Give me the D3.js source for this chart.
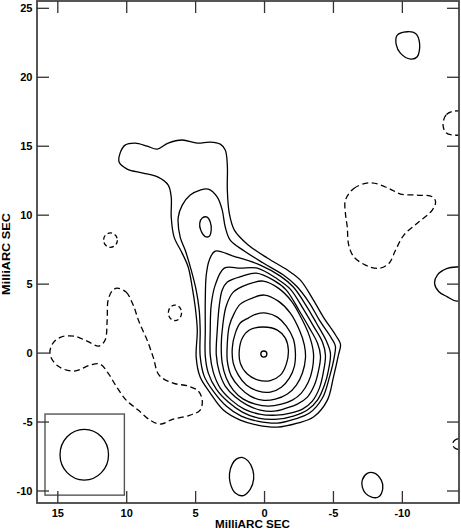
<!DOCTYPE html>
<html><head><meta charset="utf-8">
<script src="https://cdn.jsdelivr.net/npm/d3@7/dist/d3.min.js"></script>
<style>
html,body{margin:0;padding:0;background:#fff;}
svg{display:block;}
text{font-family:"Liberation Sans",Arial,Helvetica,sans-serif;font-weight:bold;fill:#000;}
</style>
</head><body>
<svg id="chart" width="461" height="529"></svg>
<script>
// ---- axis data (milliarcseconds) ----
const xDomain = [16.51, -14.11];
const yDomain = [25.53, -10.87];
const xTicks = [15, 10, 5, 0, -5, -10];
const yTicks = [25, 20, 15, 10, 5, 0, -5, -10];
const axisTitle = "MilliARC SEC";

// ---- positive (solid) contours, vertices in mas [RA offset, Dec offset] ----
const level1 = [[10.48,14.50],[10.12,15.08],[9.39,15.23],[8.52,15.01],[7.79,14.79],[6.99,15.23],[5.97,15.45],[4.88,15.23],[3.94,15.30],[3.21,15.15],[2.85,14.72],[2.70,13.63],[2.70,11.82],[2.56,10.15],[2.19,8.92],[1.25,7.90],[-0.20,6.89],[-1.66,6.02],[-2.60,5.29],[-3.55,3.84],[-4.27,2.61],[-5.15,1.31],[-5.51,0.65],[-5.36,-0.15],[-5.00,-1.74],[-4.56,-3.41],[-3.55,-4.64],[-2.38,-5.08],[-0.93,-5.37],[0.52,-5.22],[1.76,-4.86],[2.99,-4.13],[3.94,-2.90],[4.67,-1.74],[4.96,-0.29],[4.88,1.67],[5.03,3.34],[5.25,4.79],[5.54,6.24],[5.98,7.25],[6.56,8.41],[6.77,9.86],[6.77,11.31],[6.99,12.18],[7.72,12.76],[8.81,13.05],[9.97,13.34],[10.55,13.85]];
const level2 = [[4.67,11.82],[4.08,11.89],[3.43,11.31],[3.07,10.37],[2.85,9.14],[2.49,8.19],[1.47,7.40],[0.09,6.53],[-1.37,5.66],[-2.31,4.86],[-3.26,3.63],[-3.98,2.39],[-4.85,1.09],[-5.14,0.51],[-5.07,-0.22],[-4.71,-1.74],[-4.20,-3.26],[-3.26,-4.35],[-2.17,-4.79],[-0.93,-5.08],[0.52,-4.93],[1.69,-4.57],[2.78,-3.84],[3.72,-2.76],[4.38,-1.67],[4.67,-0.22],[4.67,1.67],[4.74,3.12],[4.96,4.57],[5.32,6.02],[5.76,7.47],[6.12,8.41],[6.26,9.86],[5.97,10.73],[5.39,11.46]];
const level3 = [[3.58,7.40],[2.27,7.03],[0.31,6.38],[-1.15,5.58],[-2.09,4.79],[-3.04,3.41],[-3.76,2.18],[-4.49,0.87],[-4.78,0.00],[-4.64,-1.23],[-4.35,-2.32],[-3.84,-3.41],[-3.11,-4.13],[-2.09,-4.57],[-0.93,-4.79],[0.45,-4.71],[1.61,-4.28],[2.63,-3.55],[3.50,-2.61],[4.08,-1.45],[4.30,-0.22],[4.30,1.67],[4.30,3.84],[4.23,5.66],[4.01,6.74]];
const level3Knot = [[4.52,9.79],[4.16,9.86],[3.94,9.50],[3.87,8.92],[4.01,8.48],[4.30,8.45],[4.63,8.92],[4.70,9.43]];
const level4 = [[2.92,6.16],[1.76,6.16],[0.52,6.16],[-0.93,5.37],[-1.87,4.64],[-2.82,3.19],[-3.55,1.96],[-4.20,0.80],[-4.42,-0.15],[-4.27,-1.38],[-3.98,-2.54],[-3.47,-3.48],[-2.75,-4.06],[-1.87,-4.35],[-0.86,-4.50],[0.38,-4.42],[1.47,-4.06],[2.41,-3.41],[3.21,-2.54],[3.72,-1.38],[3.94,-0.15],[3.94,1.67],[3.87,3.48],[3.58,4.93]];
const level5 = [[2.70,5.15],[1.61,5.58],[0.60,5.80],[-0.64,5.29],[-1.58,4.57],[-2.53,3.05],[-3.26,1.81],[-3.84,0.73],[-4.06,-0.22],[-3.91,-1.31],[-3.62,-2.32],[-3.11,-3.19],[-2.38,-3.70],[-1.58,-3.99],[-0.71,-4.21],[0.31,-4.13],[1.25,-3.77],[2.12,-3.19],[2.85,-2.39],[3.28,-1.38],[3.50,-0.15],[3.43,1.67],[3.28,3.48],[3.07,4.57]];
const level6 = [[2.27,4.42],[1.18,5.00],[0.09,5.22],[-1.00,4.71],[-1.95,3.77],[-2.67,2.54],[-3.26,1.23],[-3.55,0.00],[-3.47,-1.16],[-3.18,-2.10],[-2.67,-2.90],[-2.02,-3.41],[-1.22,-3.70],[-0.28,-3.84],[0.67,-3.70],[1.54,-3.34],[2.27,-2.68],[2.78,-1.81],[3.07,-0.73],[3.14,0.58],[3.03,2.03],[2.78,3.41]];
const level7 = [[1.76,3.55],[0.89,3.99],[0.01,4.21],[-1.00,3.77],[-1.87,2.90],[-2.53,1.67],[-2.89,0.58],[-2.97,-0.36],[-2.75,-1.45],[-2.31,-2.32],[-1.66,-2.97],[-0.78,-3.34],[0.16,-3.41],[1.03,-3.12],[1.83,-2.47],[2.41,-1.67],[2.70,-0.58],[2.70,0.73],[2.56,1.96],[2.19,2.90]];
const level8 = [[1.18,2.54],[0.60,2.83],[-0.13,2.90],[-0.93,2.61],[-1.58,1.96],[-2.09,1.02],[-2.24,0.00],[-2.17,-0.94],[-1.80,-1.81],[-1.22,-2.47],[-0.42,-2.83],[0.45,-2.76],[1.32,-2.32],[1.90,-1.60],[2.27,-0.73],[2.34,0.36],[2.12,1.45],[1.76,2.18]];
const level9 = [[0.09,1.89],[-0.93,1.67],[-1.51,1.09],[-1.73,0.22],[-1.58,-0.80],[-1.15,-1.60],[-0.42,-1.99],[0.45,-1.96],[1.25,-1.52],[1.76,-0.73],[1.83,0.22],[1.61,1.09],[1.10,1.67]];
const blobNorthWest = [[-9.63,23.06],[-10.36,23.30],[-10.96,23.18],[-11.25,22.46],[-11.08,21.49],[-10.60,21.32],[-9.87,21.73],[-9.56,22.34]];
const blobEastEdge = [[-14.11,6.26],[-13.26,6.14],[-12.54,5.66],[-12.34,5.05],[-12.65,4.45],[-13.26,4.08],[-13.94,3.77],[-15.0,4.2],[-15.2,5.2],[-14.8,6.3]];
const blobSouth = [[1.64,-7.56],[1.18,-7.83],[0.85,-8.48],[0.79,-9.14],[1.03,-9.86],[1.54,-10.33],[2.12,-10.15],[2.49,-9.43],[2.54,-8.72],[2.34,-8.05],[2.05,-7.69]];
const blobSouthWest = [[-7.45,-8.72],[-7.93,-8.68],[-8.47,-9.21],[-8.58,-9.81],[-8.29,-10.42],[-7.81,-10.46],[-7.33,-10.17],[-7.09,-9.70],[-7.09,-9.21]];

// ---- negative (dashed) contours ----
const negSouthEast = [[10.70,4.71],[10.04,4.42],[9.53,3.48],[9.10,2.25],[8.52,0.94],[8.08,-0.29],[7.65,-1.60],[6.63,-2.18],[5.54,-2.39],[4.81,-2.75],[4.52,-3.41],[4.67,-4.13],[5.39,-4.50],[6.63,-4.79],[7.57,-5.15],[8.30,-4.86],[9.17,-4.13],[10.04,-3.41],[10.77,-2.39],[11.35,-1.45],[11.93,-0.80],[12.66,-0.87],[13.82,-1.31],[14.99,-0.94],[15.57,-0.07],[15.35,0.73],[14.77,1.16],[13.82,1.23],[12.88,0.87],[12.01,0.51],[11.57,0.94],[11.42,2.39],[11.35,3.84],[11.06,4.50]];
const negWest = [[-5.87,11.09],[-6.48,11.94],[-7.69,12.35],[-9.02,11.94],[-9.87,11.53],[-11.08,11.46],[-12.17,11.33],[-12.41,10.97],[-12.17,10.37],[-11.08,9.41],[-10.11,8.56],[-9.51,7.47],[-9.02,6.50],[-8.29,6.14],[-7.33,6.38],[-6.48,6.98],[-6.11,7.83],[-6.00,9.16],[-5.87,10.13]];
const negNorthEdge = [[-12.95,16.6],[-13.2,17.3],[-13.8,17.55],[-14.6,17.4],[-14.9,16.7],[-14.6,15.95],[-13.8,15.8],[-13.15,16.0]];
const negSouthEdge = [[-13.65,-6.6],[-13.8,-6.32],[-14.2,-6.2],[-14.6,-6.32],[-14.75,-6.6],[-14.6,-6.88],[-14.2,-7.0],[-13.8,-6.88]];

// ---- elliptical features: [centre RA, centre Dec, semi-axis RA, semi-axis Dec] ----
const peakRing = [0.05, -0.07, 0.22, 0.22];
const negSpotNorth = [11.18, 8.19, 0.50, 0.52];
const negSpotMid = [6.50, 2.92, 0.48, 0.56];
const beam = [13.08, -7.37, 1.76, 1.84];
const beamBox = [[15.93, -4.42], [10.17, -10.30]];

const solidContours = [level1, level2, level3, level3Knot, level4, level5, level6, level7, level8, level9,
  blobNorthWest, blobEastEdge, blobSouth, blobSouthWest];
const dashedContours = [negSouthEast, negWest, negNorthEdge, negSouthEdge];
const solidEllipses = [peakRing, beam];
const dashedEllipses = [negSpotNorth, negSpotMid];

// ---- drawing ----
(function () {
const svg = d3.select("#chart");
const x = d3.scaleLinear().domain(xDomain).range([37, 459]);
const y = d3.scaleLinear().domain(yDomain).range([1, 503]);
const pL = x.range()[0], pR = x.range()[1], pT = y.range()[0], pB = y.range()[1];

svg.append("defs").append("clipPath").attr("id", "plotclip")
  .append("rect").attr("x", pL).attr("y", pT).attr("width", pR - pL).attr("height", pB - pT);

const plot = svg.append("g").attr("clip-path", "url(#plotclip)");
const line = d3.line().x(d => x(d[0])).y(d => y(d[1])).curve(d3.curveCatmullRomClosed.alpha(0.5));

plot.selectAll("path.pos").data(solidContours).join("path").attr("class", "pos")
  .attr("d", line).attr("fill", "none").attr("stroke", "#000").attr("stroke-width", 1.3);
plot.selectAll("path.neg").data(dashedContours).join("path").attr("class", "neg")
  .attr("d", line).attr("fill", "none").attr("stroke", "#000").attr("stroke-width", 1.3)
  .attr("stroke-dasharray", "6,3.5");

function ell(sel, dash) {
  sel.attr("cx", d => x(d[0])).attr("cy", d => y(d[1]))
    .attr("rx", d => Math.abs(x(d[0] + d[2]) - x(d[0])))
    .attr("ry", d => Math.abs(y(d[1] + d[3]) - y(d[1])))
    .attr("fill", "none").attr("stroke", "#000").attr("stroke-width", 1.3);
  if (dash) sel.attr("stroke-dasharray", "4.5,3");
}
plot.selectAll("ellipse.pos").data(solidEllipses).join("ellipse").attr("class", "pos").call(ell, false);
plot.selectAll("ellipse.neg").data(dashedEllipses).join("ellipse").attr("class", "neg").call(ell, true);

// beam box
svg.append("rect")
  .attr("x", x(beamBox[0][0])).attr("y", y(beamBox[0][1]))
  .attr("width", x(beamBox[1][0]) - x(beamBox[0][0]))
  .attr("height", y(beamBox[1][1]) - y(beamBox[0][1]))
  .attr("fill", "none").attr("stroke", "#555").attr("stroke-width", 1.4);

// frame
svg.append("rect").attr("x", pL).attr("y", pT).attr("width", pR - pL).attr("height", pB - pT)
  .attr("fill", "none").attr("stroke", "#444").attr("stroke-width", 1.8);

// ticks (inward on all four sides)
const tl = 12;
const tg = svg.append("g").attr("stroke", "#333").attr("stroke-width", 1.3);
xTicks.forEach(t => {
  tg.append("line").attr("x1", x(t)).attr("x2", x(t)).attr("y1", pB).attr("y2", pB - tl);
  tg.append("line").attr("x1", x(t)).attr("x2", x(t)).attr("y1", pT).attr("y2", pT + tl);
});
yTicks.forEach(t => {
  tg.append("line").attr("y1", y(t)).attr("y2", y(t)).attr("x1", pL).attr("x2", pL + tl);
  tg.append("line").attr("y1", y(t)).attr("y2", y(t)).attr("x1", pR).attr("x2", pR - tl);
});

// tick labels
svg.append("g").selectAll("text").data(xTicks).join("text")
  .attr("x", d => x(d)).attr("y", 517).attr("text-anchor", "middle")
  .attr("font-size", 11).text(d => d);
svg.append("g").selectAll("text").data(yTicks).join("text")
  .attr("x", 32.5).attr("y", d => y(d)).attr("dy", "0.36em").attr("text-anchor", "end")
  .attr("font-size", 11).text(d => d);

// axis titles
svg.append("text").attr("x", 252.5).attr("y", 528).attr("text-anchor", "middle")
  .attr("font-size", 11).attr("textLength", 75).attr("lengthAdjust", "spacingAndGlyphs").text(axisTitle);
svg.append("text").attr("transform", "translate(9.5,254) rotate(-90)").attr("text-anchor", "middle")
  .attr("font-size", 11).attr("textLength", 82).attr("lengthAdjust", "spacingAndGlyphs").text(axisTitle);
})();
</script>
</body></html>
